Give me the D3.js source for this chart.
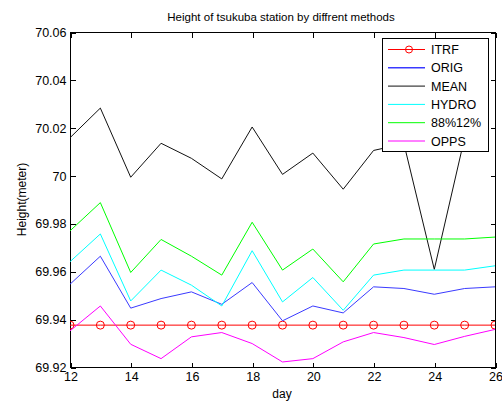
<!DOCTYPE html>
<html>
<head>
<meta charset="utf-8">
<script src="https://cdn.jsdelivr.net/npm/d3@7.9.0/dist/d3.min.js"></script>
<style>
  body { margin: 0; background: #fff; }
  svg { font-family: "Liberation Sans", Arial, sans-serif; }
</style>
</head>
<body>
<svg id="chart" width="502" height="401"></svg>
<script>
// values
const days  = [12, 13, 14, 15, 16, 17, 18, 19, 20, 21, 22, 23, 24, 25, 26];
const itrf  = days.map(() => 69.9375);
const orig  = [69.9546, 69.9663, 69.9446, 69.9486, 69.9514, 69.9462, 69.9553, 69.9393, 69.9455, 69.9426, 69.9535, 69.9528, 69.9504, 69.9528, 69.9535];
const mean  = [70.0158, 70.0282, 69.9993, 70.0135, 70.0072, 69.9986, 70.0203, 70.0005, 70.0094, 69.9943, 70.0105, 70.0133, 69.9608, 70.0159];
const hydro = [69.9640, 69.9756, 69.9476, 69.9605, 69.9542, 69.9455, 69.9686, 69.9472, 69.9574, 69.9437, 69.9584, 69.9605, 69.9605, 69.9605, 69.9623];
const g8812 = [69.9769, 69.9887, 69.9595, 69.9733, 69.9663, 69.9584, 69.9805, 69.9605, 69.9693, 69.9556, 69.9714, 69.9735, 69.9735, 69.9735, 69.9743];
const opps  = [69.9351, 69.9455, 69.9295, 69.9235, 69.9326, 69.9344, 69.9298, 69.9221, 69.9235, 69.9305, 69.9344, 69.9323, 69.9294, 69.9328, 69.9357];
const xTicks = [12, 14, 16, 18, 20, 22, 24, 26];
const yTicks = [69.92, 69.94, 69.96, 69.98, 70, 70.02, 70.04, 70.06];

const series = [
  { name: 'ITRF',    values: itrf,  color: '#ff0000', marker: true },
  { name: 'ORIG',    values: orig,  color: '#3a3aff' },
  { name: 'MEAN',    values: mean,  color: '#111111' },
  { name: 'HYDRO',   values: hydro, color: '#00ffff' },
  { name: '88%12%',  values: g8812, color: '#00ff00' },
  { name: 'OPPS',    values: opps,  color: '#ff00ff' }
];

const svg = d3.select('#chart');
const m = { left: 70, right: 495, top: 32, bottom: 367 };

const x = d3.scaleLinear().domain([12, 26]).range([m.left, m.right]);
const y = d3.scaleLinear().domain([69.92, 70.06]).range([m.bottom, m.top]);

svg.append('clipPath').attr('id', 'clip')
   .append('rect').attr('x', m.left).attr('y', m.top)
   .attr('width', m.right - m.left).attr('height', m.bottom - m.top);

// box
svg.append('rect')
   .attr('x', m.left + 0.5).attr('y', m.top + 0.5)
   .attr('width', m.right - m.left).attr('height', m.bottom - m.top)
   .attr('fill', '#fff').attr('stroke', '#000').attr('shape-rendering', 'crispEdges');

// axes, ticks pointing inward on all four sides
const fmtY = d => d3.format('.2f')(d).replace(/\.00$/, '');
const axes = [
  [d3.axisBottom(x).tickValues(xTicks).tickSize(-5).tickPadding(5), `translate(0.5,${m.bottom + 0.5})`, true],
  [d3.axisTop(x).tickValues(xTicks).tickSize(-5), `translate(0.5,${m.top + 0.5})`, false],
  [d3.axisLeft(y).tickValues(yTicks).tickSize(-5).tickPadding(4).tickFormat(fmtY), `translate(${m.left + 0.5},0.5)`, true],
  [d3.axisRight(y).tickValues(yTicks).tickSize(-5), `translate(${m.right + 0.5},0.5)`, false]
];
axes.forEach(([ax, tr, labels]) => {
  const g = svg.append('g').attr('transform', tr).call(ax);
  g.select('.domain').remove();
  g.selectAll('line').attr('stroke', '#000').attr('shape-rendering', 'crispEdges');
  if (labels) g.selectAll('text').attr('fill', '#000').style('font-size', '12.5px');
  else g.selectAll('text').remove();
});

const line = d3.line().x((d, i) => x(days[i])).y(d => y(d));
const plot = svg.append('g').attr('clip-path', 'url(#clip)');

series.forEach(s => {
  plot.append('path')
      .attr('d', line(s.values))
      .attr('fill', 'none')
      .attr('stroke', s.color)
      .attr('stroke-width', 1);
  if (s.marker) {
    plot.selectAll(null).data(s.values).join('circle')
        .attr('cx', (d, i) => x(days[i])).attr('cy', d => y(d))
        .attr('r', 4).attr('fill', 'none')
        .attr('stroke', s.color).attr('stroke-width', 1);
  }
});

// title and axis labels
svg.append('text').attr('x', 281).attr('y', 20.5)
   .attr('text-anchor', 'middle').style('font-size', '11.5px').text('Height of tsukuba station by diffrent methods');
svg.append('text').attr('x', 282).attr('y', 398)
   .attr('text-anchor', 'middle').style('font-size', '12px').text('day');
svg.append('text').attr('transform', 'translate(26,199.5) rotate(-90)')
   .attr('text-anchor', 'middle').style('font-size', '12px').text('Height(meter)');

// legend
const lg = svg.append('g');
lg.append('rect').attr('x', 382.5).attr('y', 38.5).attr('width', 106).attr('height', 113)
  .attr('fill', '#fff').attr('stroke', '#000').attr('shape-rendering', 'crispEdges');
series.forEach((s, i) => {
  const cy = 49.5 + i * 18.3;
  lg.append('line').attr('x1', 388).attr('x2', 425).attr('y1', cy).attr('y2', cy)
    .attr('stroke', s.color).attr('stroke-width', s.name === 'ORIG' ? 1.5 : 1);
  if (s.marker) {
    lg.append('circle').attr('cx', 409).attr('cy', cy).attr('r', 3.5)
      .attr('fill', 'none').attr('stroke', s.color);
  }
  lg.append('text').attr('x', 431).attr('y', cy + 4.5).style('font-size', '12.5px').text(s.name);
});
</script>
</body>
</html>
